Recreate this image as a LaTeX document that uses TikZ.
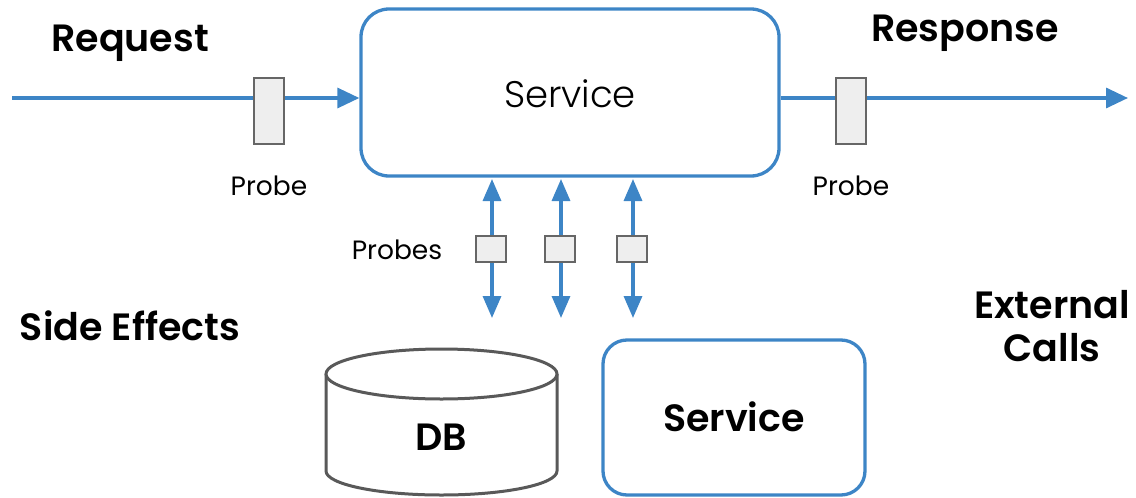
\documentclass[tikz,border=0pt]{standalone}
\usepackage{fontspec}
\setmainfont{Poppins}
\newfontfamily\lightfont{Poppins Light}
\newfontfamily\semifont{Poppins SemiBold}
\usetikzlibrary{arrows.meta}
\definecolor{cblue}{HTML}{3D85C6}
\definecolor{pfill}{HTML}{EEEEEE}
\definecolor{pgray}{HTML}{666666}
\definecolor{dbgray}{HTML}{595959}
\tikzset{
  flow/.style={draw=cblue,line width=3.3pt,-{Triangle[length=22pt,width=20pt]}},
  bflow/.style={draw=cblue,line width=3.3pt,{Triangle[length=22pt,width=18pt]}-{Triangle[length=22pt,width=18pt]}},
  probebox/.style={draw=pgray,fill=pfill,line width=2pt,minimum width=30pt,minimum height=66pt,inner sep=0pt},
  smallprobe/.style={draw=pgray,fill=pfill,line width=2pt,minimum width=30pt,minimum height=26pt,inner sep=0pt},
  svcbox/.style={draw=cblue,line width=3.3pt,rounded corners=28pt,inner sep=0pt},
  big/.style={font=\fontsize{38}{43}\selectfont\semifont,anchor=base,inner sep=0pt},
  small/.style={font=\fontsize{26.5}{30}\selectfont,anchor=base,inner sep=0pt},
}
\begin{document}
\begin{tikzpicture}[x=1pt,y=-1pt]
\useasboundingbox (0,0) rectangle (1136,498);
% main service
\node[svcbox,minimum width=418pt,minimum height=167pt] (svc) at (570,92.5) {};
\node[font=\fontsize{37}{42}\selectfont\lightfont,anchor=base,inner sep=0pt] (svct) at (570,107) {Service};
% request / response
\coordinate (rin) at (12,98);
\coordinate (rout) at (1128,98);
\draw[flow] (rin) -- (svc.west |- rin);
\draw[flow] (svc.east |- rout) -- (rout);
\node[probebox] (p1) at (269,111) {};
\node[probebox] (p2) at (851,111) {};
\node[small] (p1l) at (269,195) {Probe};
\node[small] (p2l) at (851,195) {Probe};
\node[big] (req) at (130,51) {Request};
\node[big] (resp) at (965,41) {Response};
% vertical probes
\foreach \i/\x in {a/492,b/561,c/633}{
  \coordinate (t\i) at (\x,179);
  \coordinate (b\i) at (\x,318);
  \draw[bflow] (t\i) -- (b\i);
  \node[smallprobe] (s\i) at (\x-1,249) {};
}
\node[small] (probes) at (397,259) {Probes};
\node[big] (side) at (130,340) {Side Effects};
\node[big] (ext1) at (1052,318) {External};
\node[big] (ext2) at (1052,361) {Calls};
% DB
\draw[dbgray,line width=3pt,fill=white] (326,374) -- (326,471) arc[start angle=180,end angle=360,x radius=115.5pt,y radius=24pt] -- (557,374);
\draw[dbgray,line width=3pt,fill=white] (441.5,374) ellipse[x radius=115.5pt,y radius=25pt];
\node[big] (db) at (441,450) {DB};
% lower service
\node[svcbox,minimum width=262pt,minimum height=155pt,rounded corners=24pt] (svc2) at (734,417.5) {};
\node[big] (svc2t) at (734,431) {Service};
\end{tikzpicture}
\end{document}
